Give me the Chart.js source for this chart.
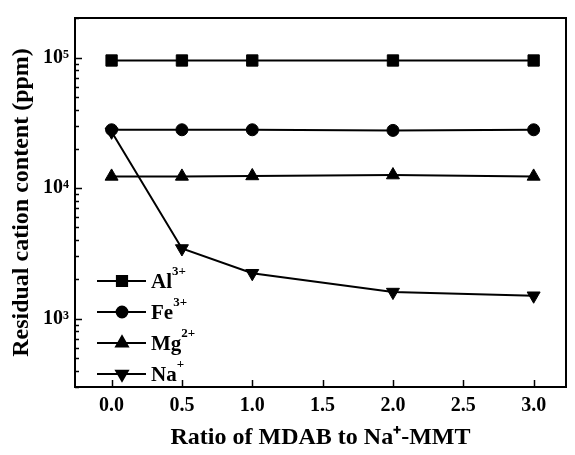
<!DOCTYPE html>
<html>
<head>
<meta charset="utf-8">
<script src="https://cdn.jsdelivr.net/npm/chart.js@4/dist/chart.umd.min.js"></script>
<style>
  html, body { margin: 0; padding: 0; background: #fff; }
  #wrap { width: 575px; height: 455px; position: relative; }
</style>
</head>
<body>
<div id="wrap"><canvas id="cationChart" width="575" height="455"></canvas></div>
<script>
// ratio of MDAB to Na+-MMT
var ratios = [0, 0.5, 1.0, 2.0, 3.0];
// residual cation content (ppm)
var alValues = [95000, 95000, 95000, 95000, 95000];
var feValues = [28000, 28000, 28000, 27700, 28000];
var mgValues = [12300, 12300, 12400, 12600, 12300];
var naValues = [27000, 3450, 2230, 1600, 1500];

var xTicks = [0, 0.5, 1.0, 1.5, 2.0, 2.5, 3.0];
var yMajorTicks = [1e3, 1e4, 1e5];
var yMajorLabels = ['10\u00B3', '10\u2074', '10\u2075'];
var yMin = 300, yMax = 201000;

var ionNames = ['Al', 'Fe', 'Mg', 'Na'];
var ionCharges = ['3+', '3+', '2+', '+'];

var FONT = '"Liberation Serif", "Times New Roman", serif';

function toPoints(vals) {
    return ratios.map(function(x, i) { return { x: x, y: vals[i] }; });
}

// log ticks: 1..9 x each decade inside the range
function logTickValues() {
    var out = [];
    for (var e = 2; e <= 5; e++) {
        for (var m = 1; m <= 9; m++) {
            var v = m * Math.pow(10, e);
            if (v >= yMin && v <= yMax) out.push({ value: v });
        }
    }
    return out;
}

function makeSet(label, vals, style, radius, rotation) {
    return {
        label: label,
        data: toPoints(vals),
        borderColor: '#000',
        backgroundColor: '#000',
        borderWidth: 2,
        pointStyle: style,
        pointRadius: radius,
        pointHoverRadius: radius,
        pointRotation: rotation || 0,
        pointBorderWidth: 1,
        tension: 0,
        fill: false
    };
}

// inward tick marks + frame
var frameTicks = {
    id: 'frameTicks',
    afterDraw: function(chart) {
        var ctx = chart.ctx, a = chart.chartArea;
        var xs = chart.scales.x, ys = chart.scales.y;
        ctx.save();
        ctx.strokeStyle = '#000';
        ctx.lineWidth = 1.5;
        logTickValues().forEach(function(t) {
            var py = Math.round(ys.getPixelForValue(t.value)) + 0.5;
            var len = yMajorTicks.indexOf(t.value) >= 0 ? 7 : 4;
            ctx.beginPath();
            ctx.moveTo(a.left, py);
            ctx.lineTo(a.left + len, py);
            ctx.stroke();
        });
        xTicks.forEach(function(v) {
            var px = Math.round(xs.getPixelForValue(v)) + 0.5;
            ctx.beginPath();
            ctx.moveTo(px, a.bottom);
            ctx.lineTo(px, a.bottom - 7);
            ctx.stroke();
        });
        ctx.lineWidth = 2;
        ctx.strokeRect(a.left, a.top, a.right - a.left, a.bottom - a.top);
        ctx.restore();
    }
};

// legend drawn inside the plot, lower left
var innerLegend = {
    id: 'innerLegend',
    afterDraw: function(chart) {
        var ctx = chart.ctx;
        var x0 = 97, x1 = 146, xm = 122, xt = 151, y0 = 281, dy = 31;
        ctx.save();
        chart.data.datasets.forEach(function(ds, i) {
            var y = y0 + i * dy;
            ctx.strokeStyle = '#000';
            ctx.fillStyle = '#000';
            ctx.lineWidth = 2;
            ctx.beginPath();
            ctx.moveTo(x0, y);
            ctx.lineTo(x1, y);
            ctx.stroke();
            Chart.helpers.drawPoint(ctx, {
                pointStyle: ds.pointStyle,
                radius: ds.pointRadius * 0.9,
                rotation: ds.pointRotation,
                borderWidth: 1
            }, xm, y);
            ctx.textBaseline = 'middle';
            ctx.textAlign = 'left';
            ctx.font = 'bold 21px ' + FONT;
            ctx.fillText(ionNames[i], xt, y + 2);
            var w = ctx.measureText(ionNames[i]).width;
            ctx.font = 'bold 13px ' + FONT;
            ctx.fillText(ionCharges[i], xt + w, y - 9);
        });
        ctx.restore();
    }
};

Chart.defaults.font.family = FONT;
Chart.defaults.color = '#000';

new Chart(document.getElementById('cationChart').getContext('2d'), {
    type: 'line',
    data: {
        datasets: [
            makeSet('Al3+', alValues, 'rect', 8),
            makeSet('Fe3+', feValues, 'circle', 6),
            makeSet('Mg2+', mgValues, 'triangle', 7.5),
            makeSet('Na+', naValues, 'triangle', 7.5, 180)
        ]
    },
    options: {
        responsive: false,
        animation: false,
        layout: { padding: { top: 13, right: 1, left: 0, bottom: 0 } },
        plugins: {
            legend: { display: false },
            tooltip: { enabled: false }
        },
        scales: {
            x: {
                type: 'linear',
                min: -0.26,
                max: 3.23,
                grid: { display: false, drawTicks: false },
                border: { display: false },
                afterBuildTicks: function(scale) {
                    scale.ticks = xTicks.map(function(v) { return { value: v }; });
                },
                afterFit: function(scale) { scale.height = 68; },
                ticks: {
                    padding: 7,
                    font: { size: 20, weight: 'bold' },
                    callback: function(v) { return Number(v).toFixed(1); }
                },
                title: {
                    display: true,
                    text: 'Ratio of MDAB to Na\u207A-MMT',
                    font: { size: 24, weight: 'bold' },
                    padding: { top: 0, bottom: 3 }
                }
            },
            y: {
                type: 'logarithmic',
                min: yMin,
                max: yMax,
                grid: { display: false, drawTicks: false },
                border: { display: false },
                afterBuildTicks: function(scale) {
                    scale.ticks = logTickValues();
                },
                afterFit: function(scale) { scale.width = 75; },
                ticks: {
                    autoSkip: false,
                    padding: 6,
                    font: { size: 20, weight: 'bold' },
                    callback: function(v) {
                        var k = yMajorTicks.indexOf(v);
                        return k >= 0 ? yMajorLabels[k] : '';
                    }
                },
                title: {
                    display: true,
                    text: 'Residual cation content (ppm)',
                    font: { size: 24, weight: 'bold' },
                    padding: { top: 7, bottom: 0 }
                }
            }
        }
    },
    plugins: [frameTicks, innerLegend]
});
</script>
</body>
</html>
